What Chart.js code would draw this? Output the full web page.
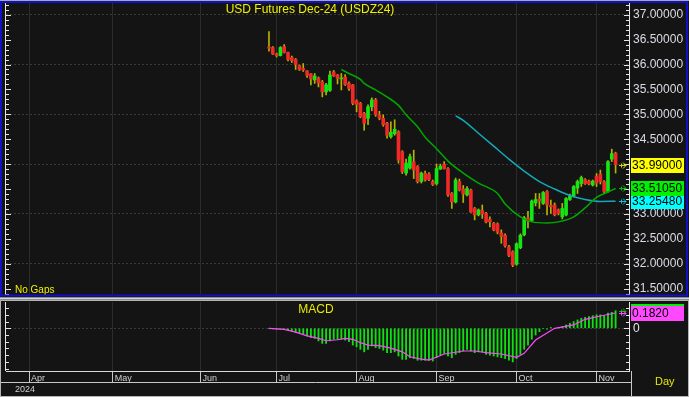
<!DOCTYPE html>
<html>
<head>
<meta charset="utf-8">
<title>USD Futures Dec-24 (USDZ24)</title>
<script src="https://cdn.jsdelivr.net/npm/chart.js@4.4.1/dist/chart.umd.min.js"></script>
<style>
  html, body { margin: 0; padding: 0; background: #141414; }
  #wrap { position: relative; width: 689px; height: 397px; background: #141414; overflow: hidden; }
  #priceBox { position: absolute; left: 0; top: 0; width: 689px; height: 297px; }
  #macdBox { position: absolute; left: 0; top: 300px; width: 689px; height: 97px; }
  .sep { position: absolute; left: 0; width: 689px; height: 1px; }
</style>
</head>
<body>
<div id="wrap">
  <div id="priceBox"><canvas id="priceChart"></canvas></div>
  <div class="sep" style="top:297px;background:#8c8c8c"></div>
  <div class="sep" style="top:298px;background:#d8d8d8"></div>
  <div class="sep" style="top:299px;background:#8c8c8c"></div>
  <div id="macdBox"><canvas id="macdChart"></canvas></div>
</div>
<script>
// ---- data (session index 0 = first session of April 2024) ----
const monthLabels = ['Apr', 'May', 'Jun', 'Jul', 'Aug', 'Sep', 'Oct', 'Nov'];
const monthStarts = [0, 22, 45, 65, 86, 107, 128, 149];
const priceTicks = [31.5, 32, 32.5, 33, 33.5, 34, 34.5, 35, 35.5, 36, 36.5, 37];
const firstSession = 63; // first traded session of the contract (late June)

const openPx = [36.34, 36.34, 36.21, 36.18, 36.36, 36.24, 36.14, 36.10, 35.98, 35.92,
  35.87, 35.81, 35.69, 35.73, 35.65, 35.45, 35.48, 35.85, 35.79, 35.71,
  35.75, 35.62, 35.59, 35.27, 35.22, 35.02, 34.92, 35.15, 35.29, 34.99,
  34.92, 34.82, 34.55, 34.61, 34.65, 34.25, 33.82, 33.92, 34.05, 33.95,
  33.65, 33.81, 33.80, 33.65, 33.61, 33.90, 34.00, 33.91, 33.41, 33.24,
  33.65, 33.50, 33.38, 33.48, 33.11, 32.98, 33.07, 33.01, 32.89, 32.81,
  32.80, 32.62, 32.57, 32.34, 32.24, 31.99, 32.32, 32.58, 32.92, 32.87,
  33.22, 33.30, 33.21, 33.45, 33.17, 33.18, 33.08, 32.94, 32.98, 33.29,
  33.36, 33.52, 33.61, 33.69, 33.66, 33.58, 33.76, 33.80, 33.65, 33.45,
  34.10, 34.22];
const highPx = [36.66, 36.36, 36.23, 36.36, 36.40, 36.25, 36.17, 36.12, 35.99, 36.02,
  35.88, 35.82, 35.82, 35.75, 35.68, 35.62, 35.87, 35.88, 35.80, 35.82,
  35.80, 35.65, 35.60, 35.29, 35.24, 35.04, 35.19, 35.33, 35.32, 35.06,
  34.99, 34.84, 34.85, 34.89, 34.67, 34.27, 34.10, 34.20, 34.28, 33.97,
  33.84, 33.86, 33.83, 33.68, 34.00, 34.00, 34.05, 33.93, 33.43, 33.72,
  33.70, 33.57, 33.55, 33.50, 33.13, 33.10, 33.18, 33.03, 32.94, 32.83,
  32.82, 32.68, 32.60, 32.37, 32.26, 32.42, 32.60, 32.95, 33.05, 33.28,
  33.41, 33.41, 33.45, 33.47, 33.28, 33.22, 33.10, 33.21, 33.33, 33.40,
  33.57, 33.68, 33.76, 33.71, 33.68, 33.68, 33.81, 33.88, 33.67, 34.07,
  34.30, 34.24];
const lowPx = [36.27, 36.20, 36.15, 36.17, 36.23, 36.07, 36.04, 35.90, 35.88, 35.86,
  35.74, 35.59, 35.62, 35.55, 35.35, 35.39, 35.46, 35.76, 35.61, 35.49,
  35.58, 35.48, 35.19, 35.05, 34.93, 34.68, 34.79, 35.07, 34.96, 34.89,
  34.76, 34.52, 34.52, 34.58, 34.02, 33.81, 33.78, 33.90, 33.71, 33.62,
  33.62, 33.66, 33.67, 33.57, 33.58, 33.89, 33.90, 33.35, 33.11, 33.22,
  33.46, 33.23, 33.36, 33.03, 32.88, 32.96, 32.91, 32.82, 32.74, 32.66,
  32.60, 32.41, 32.33, 32.14, 31.94, 31.97, 32.30, 32.56, 32.72, 32.85,
  33.16, 33.11, 33.19, 32.98, 33.01, 32.96, 32.98, 32.90, 32.96, 33.27,
  33.34, 33.41, 33.55, 33.59, 33.58, 33.56, 33.55, 33.60, 33.42, 33.43,
  34.05, 33.82];
const closePx = [36.33, 36.21, 36.18, 36.34, 36.24, 36.10, 36.08, 36.00, 35.90, 35.89,
  35.78, 35.71, 35.77, 35.63, 35.45, 35.59, 35.79, 35.77, 35.72, 35.73,
  35.60, 35.52, 35.22, 35.20, 34.95, 34.82, 35.15, 35.29, 34.99, 34.92,
  34.79, 34.58, 34.64, 34.70, 34.08, 33.85, 34.02, 34.15, 33.88, 33.65,
  33.82, 33.68, 33.69, 33.59, 33.91, 33.96, 33.91, 33.38, 33.24, 33.68,
  33.48, 33.40, 33.51, 33.04, 32.98, 33.08, 33.00, 32.84, 32.84, 32.68,
  32.63, 32.55, 32.36, 32.17, 31.97, 32.40, 32.57, 32.92, 32.86, 33.26,
  33.29, 33.26, 33.43, 33.18, 33.14, 32.98, 33.01, 33.11, 33.31, 33.36,
  33.55, 33.65, 33.73, 33.61, 33.60, 33.66, 33.62, 33.65, 33.45, 34.05,
  34.21, 33.99];

// moving averages (bar number -> value)
const ma20Bars = [20, 22, 25, 26, 29, 32, 35, 37, 40, 42, 45, 48, 52, 56, 61, 63, 67, 70, 74, 77, 81, 84, 87, 90, 92];
const ma20Vals = [35.90, 35.82, 35.70, 35.62, 35.49, 35.35, 35.18, 34.99, 34.75, 34.54, 34.31, 34.06, 33.82,
  33.62, 33.41, 33.20, 32.94, 32.84, 32.82, 32.84, 32.94, 33.12, 33.33, 33.44, 33.5105];
const ma50Bars = [50, 52, 56, 60, 64, 68, 72, 76, 80, 84, 88, 92];
const ma50Vals = [34.97, 34.88, 34.62, 34.36, 34.10, 33.86, 33.65, 33.50, 33.37, 33.29, 33.25, 33.2548];

// MACD panel
const macdVals = [0.00, -0.005, -0.01, -0.01, -0.01, -0.02, -0.03, -0.05, -0.06, -0.07,
  -0.09, -0.11, -0.12, -0.15, -0.18, -0.18, -0.15, -0.13, -0.13, -0.13,
  -0.14, -0.16, -0.20, -0.22, -0.25, -0.28, -0.25, -0.21, -0.23, -0.24,
  -0.26, -0.29, -0.29, -0.28, -0.33, -0.37, -0.37, -0.35, -0.36, -0.38,
  -0.38, -0.38, -0.38, -0.39, -0.35, -0.32, -0.30, -0.33, -0.35, -0.31,
  -0.29, -0.27, -0.25, -0.27, -0.29, -0.28, -0.28, -0.31, -0.32, -0.33,
  -0.34, -0.35, -0.36, -0.38, -0.40, -0.36, -0.31, -0.25, -0.20, -0.13,
  -0.08, -0.04, 0.00, -0.01, 0.01, 0.00, 0.01, 0.02, 0.04, 0.06,
  0.08, 0.10, 0.12, 0.13, 0.14, 0.15, 0.16, 0.16, 0.15, 0.18,
  0.19, 0.21];
const signalBars = [1, 5, 8, 11, 14, 16, 19, 21, 23, 25, 27, 30, 33, 36, 38, 41, 43, 47, 52, 55, 58, 62, 66, 68, 71, 76, 81, 84, 88, 92];
const signalVals = [0, -0.012, -0.045, -0.09, -0.12, -0.148, -0.136, -0.12, -0.131, -0.171, -0.199, -0.207,
  -0.235, -0.28, -0.339, -0.366, -0.378, -0.306, -0.27, -0.27, -0.29, -0.306, -0.345, -0.298, -0.139,
  0, 0.04, 0.107, 0.146, 0.182];

// ---- helpers ----
const UP = '#14e614';
const DOWN = '#f02828';
const X_MIN = -6.04, X_MAX = 157.52;
const FONT = 'Arial, "Liberation Sans", sans-serif';
const atBar = n => firstSession + n - 1;

const wickData = closePx.map((c, i) => ({ x: firstSession + i, y: [lowPx[i], highPx[i]] }));
const bodyData = closePx.map((c, i) => ({ x: firstSession + i, y: [openPx[i], c] }));
const bodyColors = closePx.map((c, i) => (c >= openPx[i] ? UP : DOWN));
const ma20Data = ma20Bars.map((n, i) => ({ x: atBar(n), y: ma20Vals[i] }));
const ma50Data = ma50Bars.map((n, i) => ({ x: atBar(n), y: ma50Vals[i] }));
const macdData = macdVals.map((v, i) => ({ x: firstSession + i, y: v }));
const signalData = signalBars.map((n, i) => ({ x: atBar(n), y: signalVals[i] }));

// axes must not push the plot area around
const noPad = s => { s.paddingTop = 0; s.paddingBottom = 0; s.paddingLeft = 0; s.paddingRight = 0; };

function drawTag(ctx, y, value, text, fill, arrow) {
  const py = y.getPixelForValue(value);
  ctx.fillStyle = fill;
  ctx.fillRect(631, Math.round(py) - 7, 53, 15);
  ctx.fillStyle = '#000';
  ctx.font = '12px ' + FONT;
  ctx.textAlign = 'left';
  ctx.textBaseline = 'middle';
  ctx.fillText(text, 632, Math.round(py) + 1);
  // little marker arrow left of the axis
  const ay = Math.round(py) + 0.5;
  ctx.strokeStyle = arrow;
  ctx.lineWidth = 1;
  ctx.beginPath();
  ctx.moveTo(619, ay); ctx.lineTo(626, ay);
  ctx.moveTo(623, ay - 3); ctx.lineTo(626, ay); ctx.lineTo(623, ay + 3);
  ctx.moveTo(621.5, ay - 2); ctx.lineTo(621.5, ay + 2);
  ctx.stroke();
}

function axisTicks(ctx, y, a, step, major) {
  ctx.strokeStyle = '#e6e6e6';
  ctx.lineWidth = 1;
  ctx.beginPath();
  ctx.moveTo(5.5, a.top); ctx.lineTo(5.5, a.bottom);
  const k0 = Math.ceil(y.min / step), k1 = Math.floor(y.max / step);
  for (let k = k0; k <= k1; k++) {
    const py = Math.round(y.getPixelForValue(k * step)) + 0.5;
    const len = (k % major === 0) ? 5 : 3;
    ctx.moveTo(5, py); ctx.lineTo(6 + len, py);
    ctx.moveTo(629, py); ctx.lineTo(629 - len, py);
  }
  ctx.stroke();
}

const pricePanel = {
  id: 'pricePanel',
  beforeDraw(chart) {
    const { ctx, width, height } = chart;
    ctx.save();
    ctx.fillStyle = '#141414';
    ctx.fillRect(0, 0, width, height);
    ctx.restore();
  },
  afterDraw(chart) {
    const { ctx, chartArea: a, scales: { y } } = chart;
    ctx.save();
    axisTicks(ctx, y, a, 0.1, 5);

    drawTag(ctx, y, ma50Vals[ma50Vals.length - 1], ma50Vals[ma50Vals.length - 1].toFixed(5), '#00ffff', '#00c8d8');
    drawTag(ctx, y, ma20Vals[ma20Vals.length - 1], ma20Vals[ma20Vals.length - 1].toFixed(5), '#00f000', '#00c000');
    drawTag(ctx, y, closePx[closePx.length - 1], closePx[closePx.length - 1].toFixed(5), '#ffff00', '#d8d800');

    ctx.fillStyle = '#f0f000';
    ctx.font = '12px ' + FONT;
    ctx.textAlign = 'center';
    ctx.textBaseline = 'middle';
    ctx.fillText('USD Futures Dec-24 (USDZ24)', 310, 10);

    ctx.font = '10px ' + FONT;
    ctx.textAlign = 'left';
    ctx.fillText('No Gaps', 15, 290);

    // frame
    ctx.fillStyle = '#a8a8a8';
    ctx.fillRect(0, 0, 689, 1);
    ctx.strokeStyle = '#1010c8';
    ctx.lineWidth = 2;
    ctx.strokeRect(1, 2, 686, 293.5);
    ctx.restore();
  }
};

const macdPanel = {
  id: 'macdPanel',
  beforeDraw(chart) {
    const { ctx, width, height } = chart;
    ctx.save();
    ctx.fillStyle = '#141414';
    ctx.fillRect(0, 0, width, height);
    ctx.restore();
  },
  afterDraw(chart) {
    const { ctx, chartArea: a, scales: { y } } = chart;
    ctx.save();
    axisTicks(ctx, y, a, 0.08, 100);

    const lastMacd = macdVals[macdVals.length - 1];
    const lastSig = signalVals[signalVals.length - 1];
    drawTag(ctx, y, lastMacd, lastMacd.toFixed(4), '#00f000', '#00c000');
    drawTag(ctx, y, lastSig, lastSig.toFixed(4), '#ff48ff', '#ff48ff');
    // keep the top of the green tag tucked under the panel edge
    ctx.fillStyle = '#141414';
    ctx.fillRect(630, 0, 59, a.top);

    ctx.fillStyle = '#e8e800';
    ctx.font = '12px ' + FONT;
    ctx.textAlign = 'center';
    ctx.textBaseline = 'middle';
    ctx.fillText('MACD', 316, 10);

    // date strip
    ctx.strokeStyle = '#c8c8c8';
    ctx.lineWidth = 1;
    ctx.beginPath();
    ctx.moveTo(0, 82.5); ctx.lineTo(631, 82.5);
    ctx.moveTo(631.5, a.bottom); ctx.lineTo(631.5, 97);
    ctx.stroke();

    ctx.fillStyle = '#d0d0d0';
    ctx.font = '9px ' + FONT;
    ctx.textAlign = 'left';
    ctx.fillText('2024', 15, 89.5);

    ctx.fillStyle = '#e8e800';
    ctx.font = '11px ' + FONT;
    ctx.fillText('Day', 655, 82);

    ctx.strokeStyle = '#b4b4b4';
    ctx.strokeRect(0.5, 0.5, 688, 96);
    ctx.restore();
  }
};

new Chart(document.getElementById('priceChart'), {
  type: 'bar',
  data: {
    datasets: [
      { type: 'line', label: 'MA 20', data: ma20Data, borderColor: '#00a800', borderWidth: 1.5,
        pointRadius: 0, cubicInterpolationMode: 'monotone', order: 0 },
      { type: 'line', label: 'MA 50', data: ma50Data, borderColor: '#14a8b8', borderWidth: 1.5,
        pointRadius: 0, cubicInterpolationMode: 'monotone', order: 0 },
      { label: 'Body', data: bodyData, backgroundColor: bodyColors, barThickness: 3,
        minBarLength: 1, grouped: false, order: 1 },
      { label: 'Wick', data: wickData, backgroundColor: '#b4b400', barThickness: 1,
        grouped: false, order: 2 }
    ]
  },
  options: {
    responsive: true,
    maintainAspectRatio: false,
    animation: false,
    layout: { padding: { left: 6, top: 3, right: 0, bottom: 3 } },
    plugins: { legend: { display: false }, tooltip: { enabled: false } },
    scales: {
      x: {
        type: 'linear', min: X_MIN, max: X_MAX, offset: false,
        afterFit: s => { s.height = 0; noPad(s); },
        afterBuildTicks: s => { s.ticks = monthStarts.map(v => ({ value: v })); },
        ticks: { display: false },
        grid: { color: '#2c2c2c', drawTicks: false, offset: false },
        border: { display: false }
      },
      y: {
        position: 'right', min: 31.392, max: 37.235,
        afterFit: s => { s.width = 60; noPad(s); },
        afterBuildTicks: s => { s.ticks = priceTicks.map(v => ({ value: v })); },
        ticks: {
          color: '#dcdce8', font: { family: FONT, size: 12 }, padding: 4, autoSkip: false,
          callback: v => v.toFixed(5)
        },
        grid: {
          drawTicks: false,
          color: c => (c.tick && Number.isInteger(c.tick.value)) ? '#3a3a3a' : 'rgba(0,0,0,0)'
        },
        border: { color: '#e6e6e6', dash: [2, 2] }
      }
    }
  },
  plugins: [pricePanel]
});

new Chart(document.getElementById('macdChart'), {
  type: 'bar',
  data: {
    datasets: [
      { type: 'line', label: 'Signal', data: signalData, borderColor: '#ff48ff', borderWidth: 1.2,
        pointRadius: 0, order: 0 },
      { label: 'MACD', data: macdData, backgroundColor: '#10e010', barThickness: 1.2,
        grouped: false, order: 1 }
    ]
  },
  options: {
    responsive: true,
    maintainAspectRatio: false,
    animation: false,
    layout: { padding: { left: 6, top: 2, right: 0, bottom: 0 } },
    plugins: { legend: { display: false }, tooltip: { enabled: false } },
    scales: {
      x: {
        type: 'linear', min: X_MIN, max: X_MAX, offset: false,
        afterFit: s => { s.height = 26; noPad(s); },
        afterBuildTicks: s => { s.ticks = monthStarts.map(v => ({ value: v })); },
        ticks: {
          autoSkip: false, maxRotation: 0, align: 'start', labelOffset: 2, padding: -9,
          color: '#d0d0d0', font: { family: FONT, size: 9 },
          callback: (v, i) => monthLabels[i]
        },
        grid: { color: '#2c2c2c', tickColor: '#c8c8c8', tickLength: 11, offset: false },
        border: { color: '#d8d8d8' }
      },
      y: {
        position: 'right', min: -0.508, max: 0.313,
        afterFit: s => { s.width = 60; noPad(s); },
        afterBuildTicks: s => { s.ticks = [{ value: 0 }]; },
        ticks: { color: '#e8e8e8', font: { family: FONT, size: 12 }, padding: 4, callback: v => String(v) },
        grid: { drawTicks: false, color: '#3a3a3a' },
        border: { color: '#e6e6e6', dash: [2, 2] }
      }
    }
  },
  plugins: [macdPanel]
});
</script>
</body>
</html>
